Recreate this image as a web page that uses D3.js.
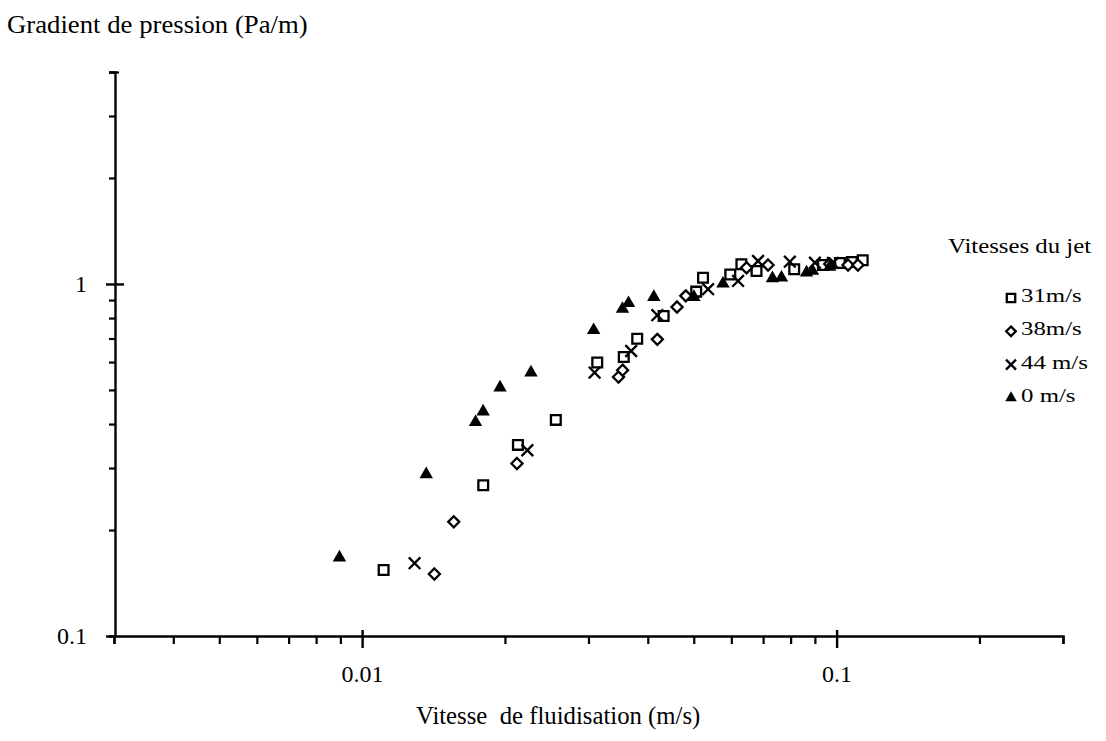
<!DOCTYPE html>
<html>
<head>
<meta charset="utf-8">
<script src="https://cdn.jsdelivr.net/npm/d3@7"></script>
<style>
  body { margin: 0; background: #fff; }
  svg { display: block; }
  text { font-family: "Liberation Serif", "Times New Roman", serif; fill: #000; white-space: pre; }
</style>
</head>
<body>
<svg></svg>
<script>
const w = 1106
const h = 741

// data: [vitesse de fluidisation (m/s), gradient (Pa/m)]
const jet31 = [
  [0.0111, 0.154], [0.0180, 0.268], [0.0213, 0.349], [0.0256, 0.411], [0.0313, 0.598],
  [0.0356, 0.620], [0.0380, 0.699], [0.0432, 0.811], [0.0506, 0.951], [0.0523, 1.042],
  [0.0597, 1.064], [0.0630, 1.137], [0.0678, 1.089], [0.0814, 1.101], [0.0936, 1.132],
  [0.1016, 1.147], [0.1077, 1.155], [0.1135, 1.168]
]
const jet38 = [
  [0.0142, 0.150], [0.0156, 0.211], [0.0212, 0.309], [0.0347, 0.544], [0.0354, 0.569],
  [0.0419, 0.696], [0.0461, 0.860], [0.0481, 0.925], [0.0646, 1.112], [0.0717, 1.132],
  [0.0967, 1.140], [0.1057, 1.132], [0.1109, 1.132]
]
const jet44 = [
  [0.0129, 0.161], [0.0223, 0.337], [0.0309, 0.560], [0.0369, 0.645], [0.0419, 0.815],
  [0.0536, 0.966], [0.0620, 1.020], [0.0683, 1.162], [0.0797, 1.157], [0.0900, 1.149],
  [0.0982, 1.147]
]
const jet0 = [
  [0.00896, 0.167], [0.01365, 0.288], [0.01734, 0.405], [0.01799, 0.434], [0.01953, 0.508],
  [0.02269, 0.560], [0.03076, 0.739], [0.03538, 0.849], [0.03643, 0.882], [0.04119, 0.918],
  [0.05004, 0.918], [0.05761, 1.002], [0.07325, 1.038], [0.07652, 1.042], [0.08643, 1.077],
  [0.08897, 1.089], [0.0967, 1.118]
]

const legendLabels = ['31m/s', '38m/s', '44 m/s', '0 m/s']

const xMajor = [0.01, 0.1]
const xMinor = [0.003, 0.004, 0.005, 0.006, 0.007, 0.008, 0.009,
  0.02, 0.03, 0.04, 0.05, 0.06, 0.07, 0.08, 0.09, 0.2, 0.3]
const yMajor = [0.1, 1]
const yMinor = [0.2, 0.3, 0.4, 0.5, 0.6, 0.7, 0.8, 0.9, 2, 3, 4]

const svg = d3.select('svg')
  .attr('width', w)
  .attr('height', h)

const xScale = d3.scaleLog().domain([0.003, 0.3]).range([114, 1063])
const yScale = d3.scaleLog().domain([0.1, 4]).range([636, 72])

const fmt = d => d3.format('')(d)

// x axis: minor ticks down, majors crossing
const xMinorG = svg.append('g')
  .attr('transform', `translate(0, ${yScale(0.1)})`)
  .call(d3.axisBottom(xScale).tickValues(xMinor).tickSize(8).tickFormat(''))
xMinorG.select('.domain').attr('stroke-width', 2.4)
xMinorG.selectAll('.tick line').attr('stroke-width', 2.2)

const xMajorG = svg.append('g')
  .attr('transform', `translate(0, ${yScale(0.1)})`)
  .call(d3.axisBottom(xScale).tickValues(xMajor).tickSize(12).tickPadding(17).tickFormat(fmt))
xMajorG.select('.domain').remove()
xMajorG.selectAll('.tick line').attr('y1', -6).attr('stroke-width', 2.4)
xMajorG.selectAll('.tick text').attr('font-size', 24).attr('font-family', null)

// y axis: minor ticks to the left, majors crossing
const yMinorG = svg.append('g')
  .attr('transform', `translate(${xScale(0.003) + 1}, 0)`)
  .call(d3.axisLeft(yScale).tickValues(yMinor).tickSize(6).tickFormat(''))
yMinorG.select('.domain').attr('stroke-width', 2.4)
yMinorG.selectAll('.tick line').attr('stroke-width', 2.2)
yMinorG.selectAll('.tick').filter(d => d === 4).select('line').attr('x2', 4).attr('x1', -6)

const yMajorG = svg.append('g')
  .attr('transform', `translate(${xScale(0.003) + 1}, 0)`)
  .call(d3.axisLeft(yScale).tickValues(yMajor).tickSize(9).tickPadding(19).tickFormat(fmt))
yMajorG.select('.domain').remove()
yMajorG.selectAll('.tick line').attr('x2', d => d === 1 ? 9 : 0).attr('x1', -9).attr('stroke-width', 2.4)
yMajorG.selectAll('.tick text').attr('font-size', 24).attr('font-family', null)

// axis titles
svg.append('text')
  .attr('transform', 'translate(7, 33) scale(1.07, 1)')
  .attr('font-size', 25)
  .text('Gradient de pression (Pa/m)')

svg.append('text')
  .attr('transform', 'translate(416, 724) scale(0.99, 1)')
  .attr('font-size', 25)
  .text('Vitesse  de fluidisation (m/s)')

// markers
const plot = svg.append('g')
const series = [
  { data: jet31, type: d3.symbolSquare, size: 95, fill: '#fff', stroke: '#000' },
  { data: jet38, type: d3.symbolDiamond2, size: 78, fill: '#fff', stroke: '#000' },
  { data: jet44, type: d3.symbolTimes, size: 90, fill: 'none', stroke: '#000' },
  { data: jet0, type: d3.symbolTriangle, size: 78, fill: '#000', stroke: 'none' }
]

series.forEach(s => {
  plot.append('g').selectAll('path').data(s.data)
    .enter().append('path')
    .attr('transform', d => `translate(${xScale(d[0])}, ${yScale(d[1])})`)
    .attr('d', d3.symbol().type(s.type).size(s.size))
    .attr('fill', s.fill)
    .attr('stroke', s.stroke)
    .attr('stroke-width', 2.3)
})

// legend
const legend = svg.append('g')
legend.append('text')
  .attr('transform', 'translate(948, 253) scale(1.24, 1)')
  .attr('font-size', 20)
  .text('Vitesses du jet')

const legendY = d3.scalePoint().domain(legendLabels).range([298, 398])

legendLabels.forEach((lab, i) => {
  const s = series[i]
  legend.append('path')
    .attr('transform', `translate(1011, ${legendY(lab)})`)
    .attr('d', d3.symbol().type(s.type).size(s.size * 0.75))
    .attr('fill', s.fill)
    .attr('stroke', s.stroke)
    .attr('stroke-width', 2.3)
  legend.append('text')
    .attr('transform', `translate(1021, ${legendY(lab) + 4}) scale(1.38, 1)`)
    .attr('font-size', 18)
    .text(lab)
})
</script>
</body>
</html>
